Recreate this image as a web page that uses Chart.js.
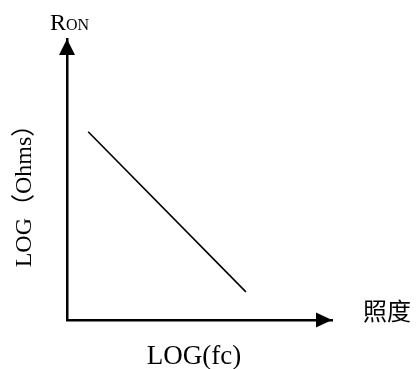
<!DOCTYPE html>
<html>
<head>
<meta charset="utf-8">
<style>
html,body{margin:0;padding:0;background:#fff;}
#wrap{width:417px;height:369px;}
</style>
<script src="https://cdn.jsdelivr.net/npm/chart.js@4"></script>
</head>
<body>
<div id="wrap"><canvas id="c" width="417" height="369"></canvas></div>
<script>
// Data (schematic: LOG resistance falls as LOG illuminance rises)
const logIllum = [0.8, 6.75];
const logOhms = [6.7, 1.0];
const xTitle = 'LOG(fc)';
const yTitle = 'LOG\uFF08Ohms\uFF09';
const yName = ['R', 'ON'];
const xName = '照度';

const points = logIllum.map((x, i) => ({x: x, y: logOhms[i]}));

const annot = {
  id: 'annot',
  afterDraw(chart) {
    const ctx = chart.ctx;
    const xs = chart.scales.x, ys = chart.scales.y;
    const x0 = xs.left, y0 = ys.bottom;
    const xEnd = xs.right, yEnd = ys.top;
    ctx.save();
    ctx.fillStyle = '#000';
    // arrowhead on y axis
    ctx.beginPath();
    ctx.moveTo(x0, yEnd);
    ctx.lineTo(x0 - 8, yEnd + 16);
    ctx.lineTo(x0 + 8, yEnd + 16);
    ctx.closePath();
    ctx.fill();
    // arrowhead on x axis
    ctx.beginPath();
    ctx.moveTo(xEnd, y0);
    ctx.lineTo(xEnd - 16, y0 - 7.5);
    ctx.lineTo(xEnd - 16, y0 + 7.5);
    ctx.closePath();
    ctx.fill();
    // texts
    ctx.textBaseline = 'alphabetic';
    ctx.textAlign = 'left';
    ctx.font = '24px "Liberation Serif", "Times New Roman", serif';
    ctx.fillText(yName[0], 50, 30);
    const rw = ctx.measureText(yName[0]).width;
    ctx.font = '16px "Liberation Serif", "Times New Roman", serif';
    ctx.fillText(yName[1], 50 + rw, 30);
    ctx.font = '24px "Noto Sans CJK TC", "Noto Sans CJK SC", serif';
    ctx.textBaseline = 'middle';
    ctx.fillText(xName, 363, 311);
    ctx.textAlign = 'center';
    ctx.font = '27px "Liberation Serif", "Times New Roman", serif';
    ctx.fillText(xTitle, 194, 357);
    ctx.translate(25, 190);
    ctx.rotate(-Math.PI / 2);
    ctx.font = '24px "Liberation Serif", "Noto Sans CJK SC", serif';
    ctx.fillText(yTitle, 0, 0);
    ctx.restore();
  }
};

new Chart(document.getElementById('c'), {
  type: 'scatter',
  data: {
    datasets: [{
      data: points,
      showLine: true,
      borderColor: '#000',
      borderWidth: 1.6,
      pointRadius: 0,
      fill: false
    }]
  },
  options: {
    responsive: false,
    animation: false,
    devicePixelRatio: 1,
    layout: {padding: {left: 67, right: 85, top: 39, bottom: 49}},
    plugins: {legend: {display: false}, tooltip: {enabled: false}},
    scales: {
      x: {
        type: 'linear', min: 0, max: 10,
        ticks: {display: false},
        grid: {display: false, drawTicks: false},
        border: {display: true, color: '#000', width: 2.5}
      },
      y: {
        type: 'linear', min: 0, max: 10,
        ticks: {display: false},
        grid: {display: false, drawTicks: false},
        border: {display: true, color: '#000', width: 2.5}
      }
    }
  },
  plugins: [annot]
});
</script>
</body>
</html>
